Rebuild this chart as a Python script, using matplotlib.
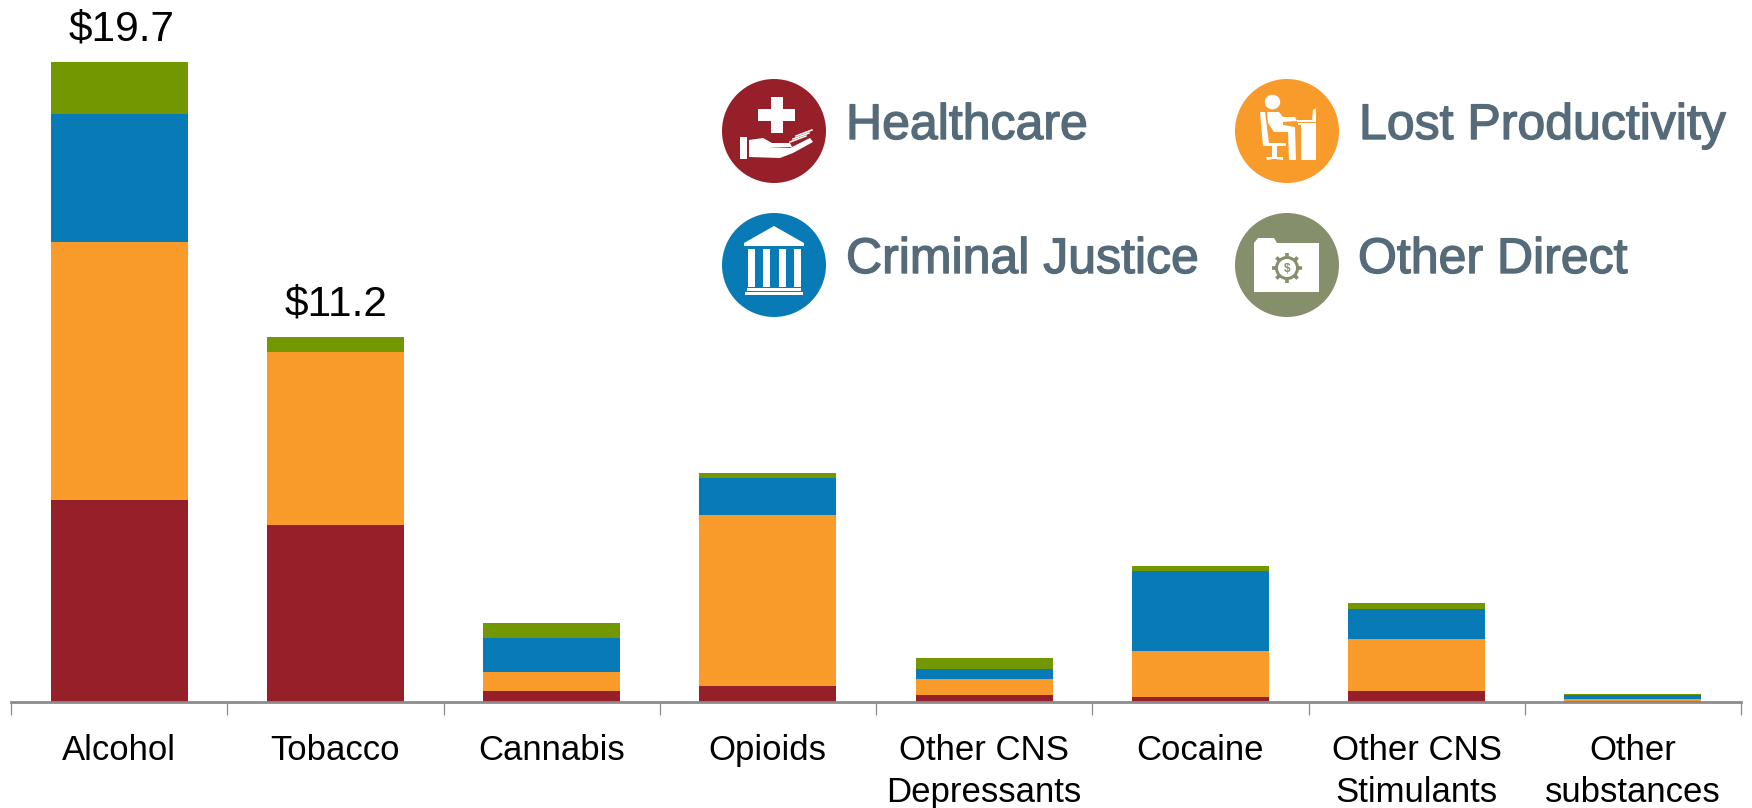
import numpy as np
import matplotlib
matplotlib.use('Agg')
import matplotlib.pyplot as plt
from matplotlib.patches import Circle, Polygon, Rectangle, Ellipse
import matplotlib.patheffects as pe

plt.rcParams['font.family'] = ['Liberation Sans', 'DejaVu Sans']

categories = ['Alcohol', 'Tobacco', 'Cannabis', 'Opioids', 'Other CNS\nDepressants',
              'Cocaine', 'Other CNS\nStimulants', 'Other\nsubstances']
healthcare = [6.21, 5.46, 0.35, 0.50, 0.21, 0.15, 0.34, 0.03]
lost_productivity = [7.93, 5.32, 0.56, 5.25, 0.49, 1.43, 1.59, 0.07]
criminal_justice = [3.95, 0.00, 1.06, 1.13, 0.33, 2.44, 0.93, 0.12]
other_direct = [1.61, 0.46, 0.45, 0.17, 0.31, 0.15, 0.20, 0.02]
labelled_bars = ['Alcohol', 'Tobacco']

RED = '#95202a'
ORANGE = '#f99b2a'
BLUE = '#087bb7'
GREEN = '#739700'
OLIVE = '#858f6b'
LEGEND_TEXT = '#566b7a'

W, H = 1752, 808
BASE = 702
fig = plt.figure(figsize=(W / 100, H / 100), dpi=100)
ax = fig.add_axes([11 / W, (H - BASE) / H, 1730 / W, BASE / H])

x = np.arange(len(categories))
series = [(healthcare, RED), (lost_productivity, ORANGE),
          (criminal_justice, BLUE), (other_direct, GREEN)]
bottom = np.zeros(len(categories))
for values, color in series:
    ax.bar(x, values, width=0.634, bottom=bottom, color=color, linewidth=0)
    bottom += np.array(values)

label_offset = {'Alcohol': (1.5, 15), 'Tobacco': (0.7, 15.5)}
for name in labelled_bars:
    i = categories.index(name)
    ax.annotate(f'${bottom[i]:.1f}', (x[i], bottom[i]), xytext=label_offset[name], textcoords='offset points',
                ha='center', va='baseline', fontsize=30.5, color='black', annotation_clip=False)

ax.set_xlim(-0.5, len(categories) - 0.5)
ax.set_ylim(0, BASE / 32.5)
ax.set_yticks([])
for side in ['top', 'right', 'left']:
    ax.spines[side].set_visible(False)
ax.spines['bottom'].set_color('#8c8c8c')
ax.spines['bottom'].set_linewidth(2)
ax.patch.set_alpha(0)

ax.set_xticks(x)
ax.set_xticklabels(categories, fontsize=25, linespacing=1.32, color='black')
ax.tick_params(axis='x', which='major', length=0, pad=23.2)
ax.set_xticks(np.arange(len(categories) + 1) - 0.5, minor=True)
ax.tick_params(axis='x', which='minor', length=9, width=0.9, color='#8c8c8c')

# icon and key layer, laid out in pixels from the top left
key = fig.add_axes([0, 0, 1, 1])
key.set_xlim(0, W)
key.set_ylim(H, 0)
key.axis('off')
key.patch.set_alpha(0)


def white_poly(points):
    key.add_patch(Polygon(points, closed=True, facecolor='white', edgecolor='none'))


def white_rect(x0, y0, x1, y1):
    key.add_patch(Rectangle((x0, y0), x1 - x0, y1 - y0, facecolor='white', edgecolor='none'))


def key_entry(cx, cy, color, label, tx, ty):
    key.add_patch(Circle((cx, cy), 52, facecolor=color, edgecolor='none'))
    t = key.text(tx, ty, label, fontsize=36, color=LEGEND_TEXT, ha='left', va='baseline')
    t.set_path_effects([pe.withStroke(linewidth=1.0, foreground=LEGEND_TEXT)])


key_entry(774, 131, RED, 'Healthcare', 846, 139)
key_entry(774, 265, BLUE, 'Criminal Justice', 846, 273)
key_entry(1287, 131, ORANGE, 'Lost Productivity', 1359, 139)
key_entry(1287, 265, OLIVE, 'Other Direct', 1358, 273)

# healthcare: cross above an open hand
white_rect(771, 97, 783, 133)
white_rect(758, 109, 795, 121)
white_rect(740, 137, 747, 159)
white_poly([(749, 140), (763, 138), (772, 143), (790, 143), (792, 147), (768, 148), (790, 148),
            (810, 138), (813, 142), (793, 153), (780, 158), (749, 157)])
for dy in (0, 3, 6):
    key.plot([790 + dy, 806 + dy], [142 - dy, 136 - dy], color='white', lw=1.1)

# criminal justice: columned building
white_poly([(774, 226), (804, 243), (804, 246), (744, 246), (744, 243)])
for cx in (751, 766, 782, 797):
    white_rect(cx - 3.5, 249, cx + 3.5, 287)
white_rect(747, 288, 801, 291)
white_rect(745, 292, 803, 295)

# lost productivity: figure seated at a desk
key.add_patch(Ellipse((1272.5, 102), 15.4, 14.6, facecolor='white', edgecolor='none'))
white_poly([(1267, 112), (1279, 112), (1283, 117), (1295, 117), (1297, 121), (1283, 122), (1283, 125),
            (1295, 127), (1296, 160), (1289, 160), (1288, 132), (1274, 132), (1268, 123)])
white_poly([(1260, 112), (1265, 112), (1269, 143), (1286, 143), (1286, 146), (1263, 146)])
white_rect(1272, 146, 1277, 157)
white_poly([(1266, 157), (1283, 157), (1283, 160), (1276, 159), (1273, 159), (1267, 160)])
white_rect(1298, 123, 1316, 125)
white_rect(1301, 125, 1316, 160)
white_poly([(1313, 110), (1316, 108), (1316, 122), (1297, 122), (1297, 120), (1312, 120)])

# other direct: folder with a dollar gear
white_poly([(1254, 243), (1258, 238), (1274, 238), (1277, 243), (1319, 243), (1319, 292), (1254, 292)])
gear_x, gear_y = 1287, 268
for deg in np.arange(0, 180, 45):
    dx, dy = 15 * np.cos(np.radians(deg)), 15 * np.sin(np.radians(deg))
    key.plot([gear_x - dx, gear_x + dx], [gear_y - dy, gear_y + dy], color=OLIVE, lw=2.6,
             solid_capstyle='butt', zorder=3)
key.add_patch(Circle((gear_x, gear_y), 12, facecolor=OLIVE, edgecolor='none', zorder=4))
key.add_patch(Circle((gear_x, gear_y), 9, facecolor='white', edgecolor='none', zorder=5))
key.text(gear_x, gear_y + 0.5, r'\$', fontsize=8.5, fontweight='bold', color=OLIVE, ha='center', va='center', zorder=6)

fig.savefig('out.png', dpi=100)
